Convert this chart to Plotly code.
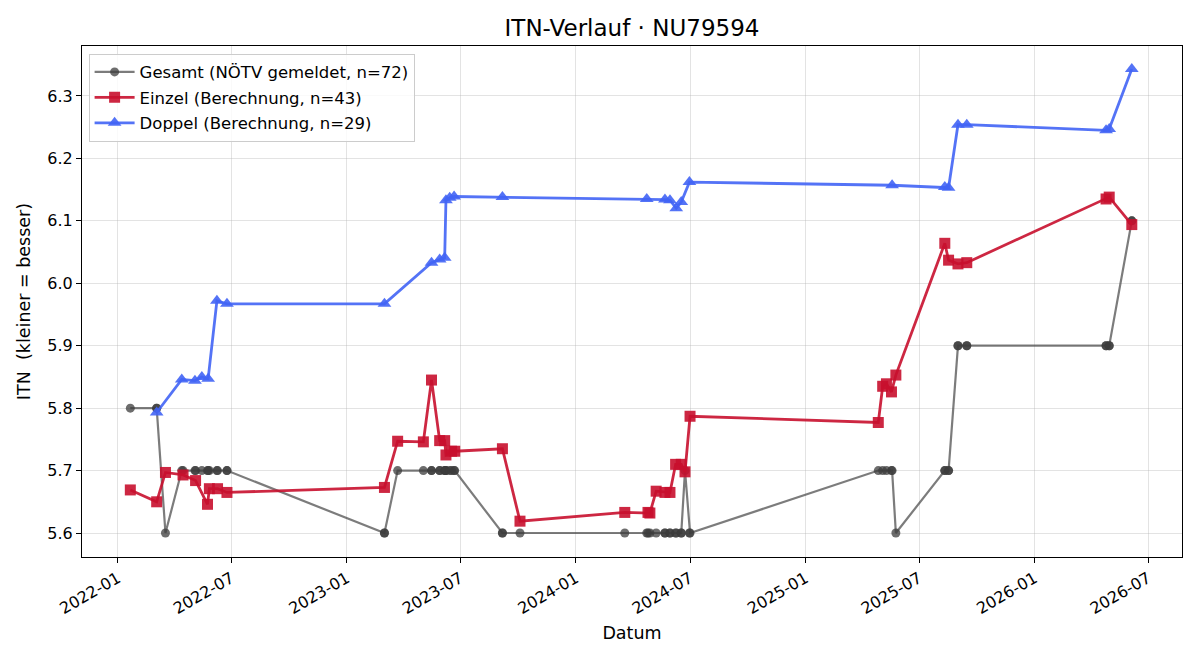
import plotly.graph_objects as go

# ---- data ----
gesamt_dates = [
    "2022-01-21", "2022-03-04", "2022-03-04", "2022-03-18", "2022-04-13", "2022-04-15",
    "2022-05-04", "2022-05-05", "2022-05-15", "2022-05-24", "2022-05-25", "2022-05-27",
    "2022-06-08", "2022-06-09", "2022-06-24", "2022-06-24",
    "2023-03-02", "2023-03-02", "2023-03-23", "2023-05-03", "2023-05-16", "2023-05-16",
    "2023-05-29", "2023-05-29", "2023-06-06", "2023-06-06", "2023-06-08", "2023-06-08",
    "2023-06-14", "2023-06-17", "2023-06-21", "2023-06-22", "2023-09-06", "2023-09-06",
    "2023-10-04",
    "2024-03-19", "2024-04-23", "2024-04-25", "2024-04-28", "2024-05-08", "2024-05-22",
    "2024-05-22", "2024-05-30", "2024-05-30", "2024-06-08", "2024-06-09", "2024-06-17",
    "2024-06-17", "2024-06-23", "2024-06-30", "2024-07-01",
    "2025-04-27", "2025-05-04", "2025-05-10", "2025-05-18", "2025-05-19", "2025-05-25",
    "2025-08-11", "2025-08-11", "2025-08-17", "2025-08-17", "2025-09-01", "2025-09-01",
    "2025-09-15", "2025-09-15",
    "2026-04-25", "2026-04-25", "2026-04-30", "2026-04-30", "2026-06-05", "2026-06-05",
]
gesamt_itn = [
    5.8, 5.8, 5.8, 5.6, 5.7, 5.7,
    5.7, 5.7, 5.7, 5.7, 5.7, 5.7,
    5.7, 5.7, 5.7, 5.7,
    5.6, 5.6, 5.7, 5.7, 5.7, 5.7,
    5.7, 5.7, 5.7, 5.7, 5.7, 5.7,
    5.7, 5.7, 5.7, 5.7, 5.6, 5.6,
    5.6,
    5.6, 5.6, 5.6, 5.6, 5.6, 5.6,
    5.6, 5.6, 5.6, 5.6, 5.6, 5.6,
    5.6, 5.7, 5.6, 5.6,
    5.7, 5.7, 5.7, 5.7, 5.7, 5.6,
    5.7, 5.7, 5.7, 5.7, 5.9, 5.9,
    5.9, 5.9,
    5.9, 5.9, 5.9, 5.9, 6.1, 6.1,
]

einzel_dates = [
    "2022-01-21", "2022-03-04", "2022-03-18", "2022-04-15", "2022-05-05", "2022-05-24",
    "2022-05-27", "2022-06-09", "2022-06-24",
    "2023-03-02", "2023-03-23", "2023-05-03", "2023-05-16", "2023-05-29", "2023-06-06",
    "2023-06-08", "2023-06-17", "2023-06-22", "2023-09-06", "2023-10-04",
    "2024-03-19", "2024-04-25", "2024-04-28", "2024-05-08", "2024-05-22", "2024-05-30",
    "2024-06-08", "2024-06-17", "2024-06-23", "2024-07-01",
    "2025-04-27", "2025-05-04", "2025-05-10", "2025-05-18", "2025-05-25", "2025-08-11",
    "2025-08-17", "2025-09-01", "2025-09-15",
    "2026-04-25", "2026-04-30", "2026-06-05",
]
einzel_itn = [
    5.669, 5.650, 5.697, 5.693, 5.684, 5.646,
    5.671, 5.671, 5.665,
    5.673, 5.747, 5.746, 5.845, 5.748, 5.748,
    5.725, 5.731, 5.731, 5.735, 5.619,
    5.633, 5.633, 5.632, 5.667, 5.665, 5.665,
    5.710, 5.710, 5.698, 5.787,
    5.777, 5.835, 5.839, 5.826, 5.853, 6.064,
    6.037, 6.031, 6.033,
    6.135, 6.138, 6.094,
]

doppel_dates = [
    "2022-03-04", "2022-04-13", "2022-05-04", "2022-05-15", "2022-05-25", "2022-06-08",
    "2022-06-24",
    "2023-03-02", "2023-05-16", "2023-05-29", "2023-06-06", "2023-06-08", "2023-06-14",
    "2023-06-21", "2023-09-06",
    "2024-04-23", "2024-05-22", "2024-05-30", "2024-06-09", "2024-06-17", "2024-06-30",
    "2025-05-19", "2025-08-11", "2025-08-17", "2025-09-01", "2025-09-15",
    "2026-04-25", "2026-04-30", "2026-06-05",
]
doppel_itn = [
    5.793, 5.846, 5.844, 5.850, 5.847, 5.972,
    5.967,
    5.967, 6.033, 6.038, 6.041, 6.133, 6.137,
    6.139, 6.138,
    6.135, 6.134, 6.133, 6.120, 6.130, 6.162,
    6.157, 6.154, 6.153, 6.254, 6.254,
    6.245, 6.247, 6.343,
]

tick_vals = ["2022-01-01", "2022-07-01", "2023-01-01", "2023-07-01", "2024-01-01",
             "2024-07-01", "2025-01-01", "2025-07-01", "2026-01-01", "2026-07-01"]
tick_text = ["2022-01", "2022-07", "2023-01", "2023-07", "2024-01",
             "2024-07", "2025-01", "2025-07", "2026-01", "2026-07"]
y_ticks = [5.6, 5.7, 5.8, 5.9, 6.0, 6.1, 6.2, 6.3]

FONT = "DejaVu Sans"
TICK_SIZE = 16
LABEL_SIZE = 17.5
LEGEND_SIZE = 16.5

fig = go.Figure()
fig.add_trace(go.Scatter(
    x=gesamt_dates, y=gesamt_itn, mode="lines+markers",
    name="Gesamt (NÖTV gemeldet, n=72)", legendgroup="g",
    line=dict(color="rgba(68,68,68,0.7)", width=2.2),
    marker=dict(symbol="circle", size=9, color="rgba(60,60,60,0.75)"),
))
fig.add_trace(go.Scatter(
    x=einzel_dates, y=einzel_itn, mode="lines+markers",
    name="Einzel (Berechnung, n=43)", legendgroup="e",
    line=dict(color="rgba(200,16,46,0.9)", width=2.8),
    marker=dict(symbol="square", size=11, color="rgba(200,16,46,0.9)"),
))
fig.add_trace(go.Scatter(
    x=doppel_dates, y=doppel_itn, mode="lines+markers",
    name="Doppel (Berechnung, n=29)", legendgroup="d",
    line=dict(color="rgba(65,100,245,0.9)", width=2.8),
    marker=dict(symbol="triangle-up", size=12, color="rgba(65,100,245,0.9)"),
))

axis_common = dict(
    showline=True, linecolor="black", linewidth=1, mirror=True,
    ticks="outside", ticklen=5, tickcolor="black", tickwidth=1,
    showgrid=True, gridcolor="rgba(176,176,176,0.35)", gridwidth=1,
    zeroline=False, tickfont=dict(family=FONT, size=TICK_SIZE, color="black"),
)

fig.update_layout(
    width=1200, height=660,
    margin=dict(l=82, r=18, t=46, b=103),
    paper_bgcolor="white", plot_bgcolor="white",
    font=dict(family=FONT, color="black"),
    title=dict(text="ITN-Verlauf · NU79594", xref="paper", x=0.5, xanchor="center",
               yref="container", y=1 - 28 / 660, yanchor="middle",
               font=dict(family=FONT, size=23, color="black")),
    xaxis=dict(
        **axis_common,
        range=["2021-11-05", "2026-08-24"],
        tickvals=tick_vals, ticktext=tick_text, tickangle=-30,
        title=dict(text="Datum", font=dict(family=FONT, size=LABEL_SIZE), standoff=9),
    ),
    yaxis=dict(
        **axis_common,
        range=[5.5616, 6.380],
        tickvals=y_ticks, tickformat=".1f",
        title=dict(text="ITN\u00a0\u00a0(kleiner = besser)", font=dict(family=FONT, size=LABEL_SIZE), standoff=12),
    ),
    legend=dict(
        x=0.006, y=0.985, xanchor="left", yanchor="top",
        bgcolor="rgba(255,255,255,0.8)", bordercolor="#cccccc", borderwidth=1,
        font=dict(family=FONT, size=LEGEND_SIZE, color="black"),
        tracegroupgap=1, itemwidth=40,
    ),
    showlegend=True,
)

fig.write_html("out.html")
